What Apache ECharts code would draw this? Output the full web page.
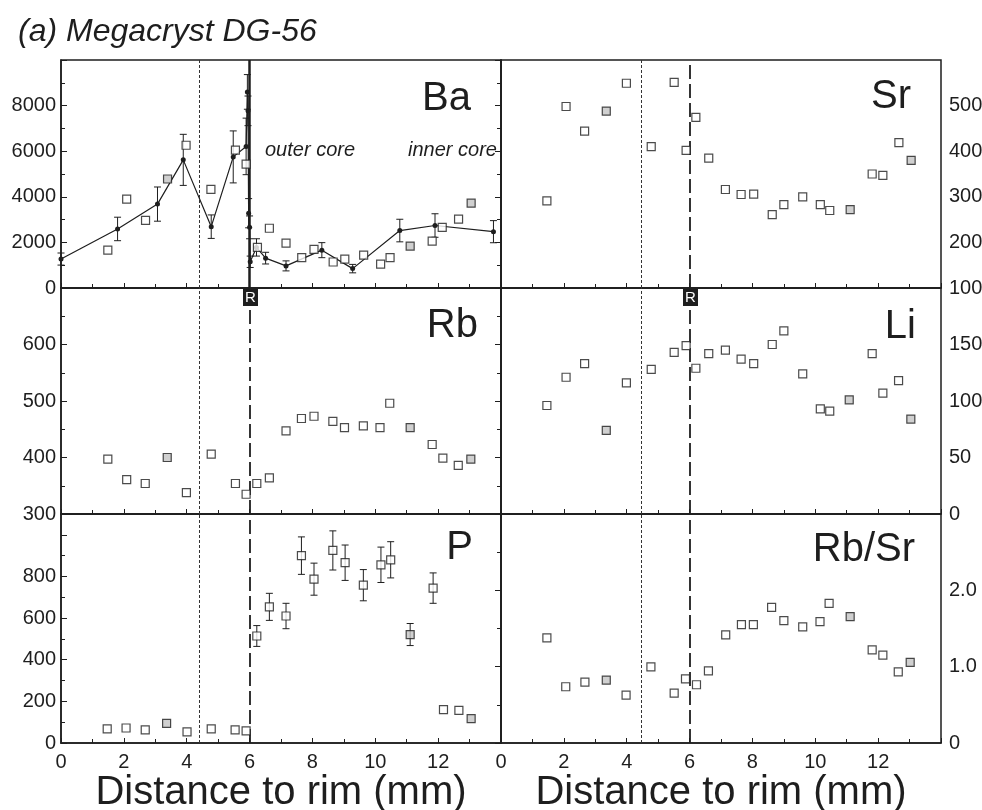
<!DOCTYPE html>
<html>
<head>
<meta charset="utf-8">
<title>Megacryst DG-56</title>
<script src="https://cdn.jsdelivr.net/npm/echarts@6/dist/echarts.min.js"></script>
<style>
    html, body { margin: 0; padding: 0; background: #fff; }
    #chart { width: 982px; height: 810px; }
</style>
</head>
<body>
<div id="chart"></div>
<script>
// distance to rim (mm) of every spot, then the measured value
// Ba profile (dots joined by a line): [x, value, error]
const baProfile = [
    [0, 1270, 265], [1.80, 2590, 515], [3.07, 3680, 750], [3.89, 5620, 1120],
    [4.78, 2690, 515], [5.48, 5750, 1140], [5.89, 6210, 1240], [5.93, 8600, 760],
    [5.95, 7770, 650], [5.97, 3280, 640], [6.00, 2660, 500], [6.02, 1150, 250],
    [6.22, 1780, 380], [6.51, 1310, 256], [7.16, 970, 220], [8.30, 1660, 330],
    [9.28, 850, 185], [10.78, 2520, 495], [11.90, 2740, 516], [13.76, 2470, 485]
];
const baOpen = [
    [1.49, 1660], [2.09, 3900], [2.69, 2970], [3.98, 6260], [4.77, 4330], [5.55, 6050],
    [5.89, 5430], [6.25, 1780], [6.63, 2620], [7.16, 1970], [7.66, 1330], [8.05, 1690],
    [8.66, 1140], [9.03, 1270], [9.63, 1440], [10.17, 1050], [10.47, 1330], [11.81, 2060],
    [12.13, 2660], [12.65, 3020]
];
const baGrey = [[3.39, 4780], [11.11, 1840], [13.05, 3720]];

const srOpen = [
    [1.46, 291], [2.07, 498], [2.66, 444], [3.99, 549], [4.78, 410], [5.51, 551],
    [5.89, 402], [6.20, 474], [6.61, 385], [7.14, 316], [7.64, 305], [8.04, 306],
    [8.63, 261], [9.00, 283], [9.60, 300], [10.16, 283], [10.46, 270], [11.81, 350],
    [12.15, 347], [12.66, 419]
];
const srGrey = [[3.35, 488], [11.11, 272], [13.05, 380]];

const rbOpen = [
    [1.49, 397], [2.09, 361], [2.68, 354], [3.99, 338], [4.78, 406], [5.55, 354],
    [5.89, 335], [6.23, 354], [6.63, 364], [7.16, 447], [7.65, 469], [8.05, 473],
    [8.65, 464], [9.02, 453], [9.62, 456], [10.15, 453], [10.46, 496], [11.81, 423],
    [12.15, 399], [12.64, 386]
];
const rbGrey = [[3.38, 400], [11.11, 453], [13.04, 397]];

const liOpen = [
    [1.46, 96], [2.07, 121], [2.66, 133], [3.99, 116], [4.78, 128], [5.51, 143],
    [5.89, 149], [6.20, 129], [6.61, 142], [7.14, 145], [7.64, 137], [8.04, 133],
    [8.63, 150], [9.00, 162], [9.60, 124], [10.16, 93], [10.46, 91], [11.81, 142],
    [12.15, 107], [12.65, 118]
];
const liGrey = [[3.35, 74], [11.08, 101], [13.04, 84]];

// P: [x, value, error] (error 0 = no bar)
const pOpen = [
    [1.47, 68, 0], [2.07, 72, 0], [2.68, 63, 0], [4.01, 53, 0], [4.78, 68, 0], [5.54, 63, 0],
    [5.89, 58, 0], [6.23, 514, 50], [6.63, 654, 65], [7.16, 610, 61], [7.65, 900, 90],
    [8.05, 787, 77], [8.65, 925, 94], [9.04, 866, 85], [9.62, 758, 75], [10.18, 856, 85],
    [10.49, 880, 87], [11.84, 744, 73], [12.17, 160, 0], [12.66, 157, 0]
];
const pGrey = [[3.36, 94, 0], [11.11, 521, 53], [13.05, 117, 0]];

const rbsrOpen = [
    [1.46, 1.378], [2.06, 0.737], [2.67, 0.797], [3.98, 0.627], [4.77, 0.998], [5.51, 0.654],
    [5.87, 0.841], [6.22, 0.763], [6.60, 0.946], [7.15, 1.417], [7.65, 1.552], [8.03, 1.552],
    [8.61, 1.778], [9.00, 1.604], [9.60, 1.521], [10.15, 1.591], [10.44, 1.830], [11.81, 1.221],
    [12.15, 1.150], [12.64, 0.933]
];
const rbsrGrey = [[3.35, 0.824], [11.11, 1.656], [13.02, 1.055]];

// zone boundaries (mm)
const dottedLeft = 4.4;
const dottedRight = 4.47;
const rimLine = 6.0;

const INK = '#1e1e1e';
const FONT = '"Liberation Sans", Arial, sans-serif';

const chart = echarts.init(document.getElementById('chart'));

// 0 Ba, 1 Sr, 2 Rb, 3 Li, 4 P, 5 Rb/Sr
const rows = [[60, 228], [288, 226], [514, 229]];
const grids = [];
for (let r = 0; r < 3; r++) {
    grids.push({left: 61, top: rows[r][0], width: 440, height: rows[r][1]});
    grids.push({left: 501, top: rows[r][0], width: 440, height: rows[r][1]});
}
grids.forEach(g => {
    g.show = true;
    g.borderColor = INK;
    g.borderWidth = 1.5;
    g.backgroundColor = 'transparent';
    g.containLabel = false;
    g.outerBoundsMode = 'none';
});

function xAx(i) {
    const bottom = i >= 4;
    return {
        gridIndex: i, type: 'value', min: 0, max: 14, interval: 2,
        axisLine: {show: true, lineStyle: {color: INK, width: 1.5}},
        axisTick: {inside: true, length: 5, lineStyle: {color: INK}},
        minorTick: {show: true, splitNumber: 2, length: 4, lineStyle: {color: INK}},
        splitLine: {show: false},
        axisLabel: {
            show: bottom, fontSize: 20, color: INK, fontFamily: FONT, margin: 9,
            formatter: v => v > 12 ? '' : v
        },
        name: bottom ? 'Distance to rim (mm)' : '',
        nameLocation: 'middle', nameGap: 25,
        nameTextStyle: {fontSize: 40, color: INK, fontFamily: FONT, verticalAlign: 'top'}
    };
}

function yAx(i, min, max, interval, fmt) {
    const right = i % 2 === 1;
    return {
        gridIndex: i, type: 'value', position: right ? 'right' : 'left',
        min: min, max: max, interval: interval,
        axisLine: {show: true, lineStyle: {color: INK, width: 1.5}},
        axisTick: {inside: true, length: 6, lineStyle: {color: INK}},
        minorTick: {show: true, splitNumber: 2, length: 4, lineStyle: {color: INK}},
        splitLine: {show: false},
        axisLabel: {
            fontSize: 20, color: INK, fontFamily: FONT, margin: right ? 8 : 5,
            formatter: fmt
        }
    };
}

// error bars through the axis scales
function errBars(params, api) {
    const e = api.value(2);
    if (!e) return null;
    const x = api.value(0), v = api.value(1);
    const top = api.coord([x, v + e]);
    const bot = api.coord([x, v - e]);
    const w = 3.5;
    const st = {stroke: INK, lineWidth: 1};
    return {
        type: 'group',
        children: [
            {type: 'line', shape: {x1: top[0], y1: top[1], x2: bot[0], y2: bot[1]}, style: st},
            {type: 'line', shape: {x1: top[0] - w, y1: top[1], x2: top[0] + w, y2: top[1]}, style: st},
            {type: 'line', shape: {x1: bot[0] - w, y1: bot[1], x2: bot[0] + w, y2: bot[1]}, style: st}
        ]
    };
}

function squares(i, data, grey) {
    return {
        type: 'scatter', xAxisIndex: i, yAxisIndex: i, data: data,
        symbol: 'rect', symbolSize: 8, z: 5,
        itemStyle: {color: grey ? '#c4c4c4' : '#fff', borderColor: INK, borderWidth: 1.2}
    };
}

function zoneLines(i, dotX, rimSolid) {
    return {
        type: 'line', xAxisIndex: i, yAxisIndex: i, data: [], silent: true,
        markLine: {
            symbol: 'none', silent: true, label: {show: false}, animation: false,
            data: [
                {xAxis: dotX, lineStyle: {type: [3, 2], width: 1, color: '#333'}},
                {xAxis: rimLine, lineStyle: rimSolid
                    ? {type: 'solid', width: 2.5, color: INK}
                    : {type: [14, 5], width: 1.8, color: INK}}
            ]
        }
    };
}

const hideTop = top => (v => v >= top ? '' : v);

const option = {
    animation: false,
    backgroundColor: '#fff',
    grid: grids,
    xAxis: [0, 1, 2, 3, 4, 5].map(xAx),
    yAxis: [
        yAx(0, 0, 10000, 2000, hideTop(10000)),
        yAx(1, 100, 600, 100, hideTop(600)),
        yAx(2, 300, 700, 100, hideTop(700)),
        yAx(3, 0, 200, 50, hideTop(200)),
        yAx(4, 0, 1100, 200, v => v > 800 ? '' : v),
        yAx(5, 0, 3, 1, v => v >= 3 ? '' : (v === 0 ? '0' : v.toFixed(1)))
    ],
    series: [
        zoneLines(0, dottedLeft, true),
        zoneLines(1, dottedRight, false),
        zoneLines(2, dottedLeft, false),
        zoneLines(3, dottedRight, false),
        zoneLines(4, dottedLeft, false),
        zoneLines(5, dottedRight, false),
        // Ba
        {
            type: 'line', xAxisIndex: 0, yAxisIndex: 0, data: baProfile,
            symbol: 'circle', symbolSize: 5, z: 3,
            lineStyle: {color: INK, width: 1.2}, itemStyle: {color: INK}
        },
        {type: 'custom', xAxisIndex: 0, yAxisIndex: 0, data: baProfile, renderItem: errBars, z: 3},
        squares(0, baOpen, false),
        squares(0, baGrey, true),
        // Sr
        squares(1, srOpen, false),
        squares(1, srGrey, true),
        // Rb
        squares(2, rbOpen, false),
        squares(2, rbGrey, true),
        // Li
        squares(3, liOpen, false),
        squares(3, liGrey, true),
        // P
        {type: 'custom', xAxisIndex: 4, yAxisIndex: 4, data: pOpen.concat(pGrey), renderItem: errBars, z: 3},
        squares(4, pOpen, false),
        squares(4, pGrey, true),
        // Rb/Sr
        squares(5, rbsrOpen, false),
        squares(5, rbsrGrey, true)
    ],
    graphic: [
        {type: 'text', x: 18, y: 32, style: {text: '(a) Megacryst DG-56', fontSize: 32, fontStyle: 'italic', fontFamily: FONT, fill: INK, textVerticalAlign: 'middle'}},
        {type: 'text', x: 471, y: 99, style: {text: 'Ba', fontSize: 40, fontFamily: FONT, fill: INK, textAlign: 'right', textVerticalAlign: 'middle'}},
        {type: 'text', x: 911, y: 97, style: {text: 'Sr', fontSize: 40, fontFamily: FONT, fill: INK, textAlign: 'right', textVerticalAlign: 'middle'}},
        {type: 'text', x: 478, y: 326, style: {text: 'Rb', fontSize: 40, fontFamily: FONT, fill: INK, textAlign: 'right', textVerticalAlign: 'middle'}},
        {type: 'text', x: 916, y: 327, style: {text: 'Li', fontSize: 40, fontFamily: FONT, fill: INK, textAlign: 'right', textVerticalAlign: 'middle'}},
        {type: 'text', x: 473, y: 548, style: {text: 'P', fontSize: 40, fontFamily: FONT, fill: INK, textAlign: 'right', textVerticalAlign: 'middle'}},
        {type: 'text', x: 915, y: 550, style: {text: 'Rb/Sr', fontSize: 40, fontFamily: FONT, fill: INK, textAlign: 'right', textVerticalAlign: 'middle'}},
        {type: 'text', x: 265, y: 150, style: {text: 'outer core', fontSize: 20, fontStyle: 'italic', fontFamily: FONT, fill: INK, textVerticalAlign: 'middle'}},
        {type: 'text', x: 408, y: 150, style: {text: 'inner core', fontSize: 20, fontStyle: 'italic', fontFamily: FONT, fill: INK, textVerticalAlign: 'middle'}},
        // rim markers
        {type: 'rect', x: 243, y: 289, shape: {width: 15, height: 17}, style: {fill: INK}, z: 20},
        {type: 'text', x: 250.5, y: 298, style: {text: 'R', fontSize: 15, fontFamily: FONT, fill: '#fff', textAlign: 'center', textVerticalAlign: 'middle'}, z: 21},
        {type: 'rect', x: 683, y: 289, shape: {width: 15, height: 17}, style: {fill: INK}, z: 20},
        {type: 'text', x: 690.5, y: 298, style: {text: 'R', fontSize: 15, fontFamily: FONT, fill: '#fff', textAlign: 'center', textVerticalAlign: 'middle'}, z: 21}
    ]
};

chart.setOption(option);
</script>
</body>
</html>
